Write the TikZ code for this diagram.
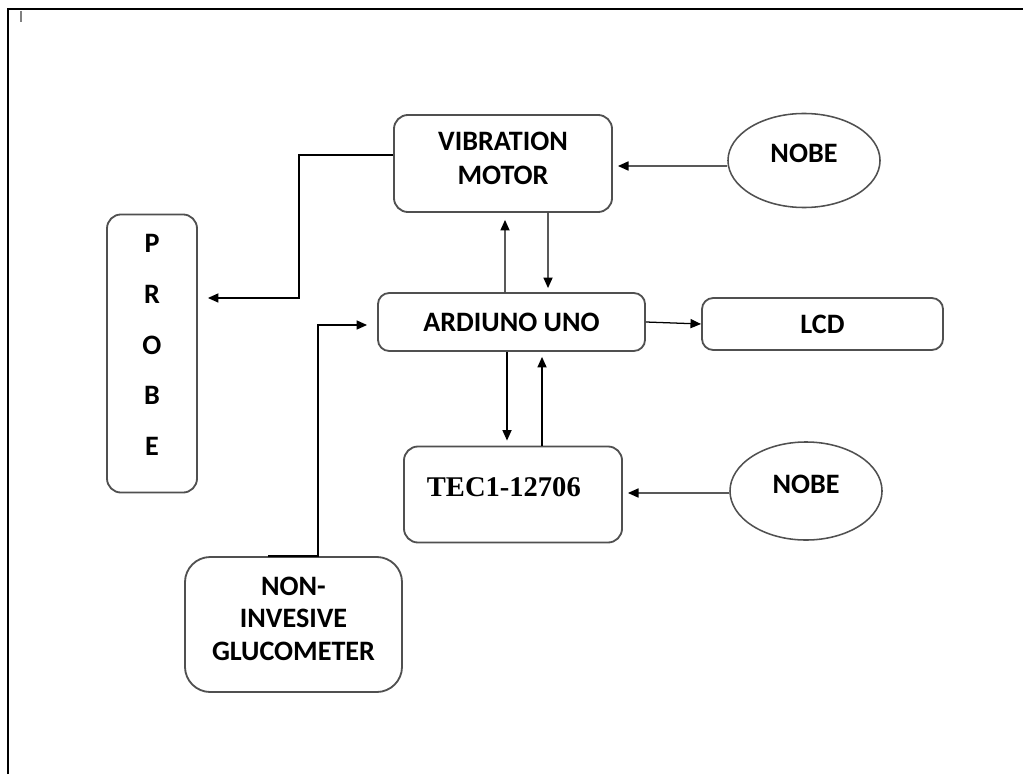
\documentclass[tikz,border=0pt]{standalone}
\usepackage{fontspec}
\setmainfont{Carlito}
\newfontfamily\tecfont{Liberation Serif}
\usepackage{tikz}
\usetikzlibrary{arrows.meta,shapes.geometric}
\definecolor{edgegray}{RGB}{80,80,80}

\begin{document}
\begin{tikzpicture}[
  x=0.025cm,y=-0.025cm,
  box/.style={draw=edgegray,line width=1.3pt,rounded corners=10pt,align=center,
    inner sep=0pt,font=\bfseries\fontsize{20}{24}\selectfont},
  nobe/.style={ellipse,draw=edgegray,line width=1.1pt,inner sep=0pt,
    minimum width=3.8cm,font=\bfseries\fontsize{20}{24}\selectfont,text depth=10pt},
  arr/.style={-{Triangle[length=7.5pt,width=6.5pt]},line width=0.9pt}
]
  \useasboundingbox (0,0) rectangle (1023,774);
  % outer frame and cursor mark
  \draw[line width=2pt] (8,774) -- (8,9) -- (1023,9);
  \draw[gray,line width=1pt] (21,11) -- (21,22);

  \node[box,minimum width=5.45cm,minimum height=2.425cm,text depth=7pt] (vib) at (503,163.5) {VIBRATION\\MOTOR};
  \node[nobe,minimum height=2.35cm] (nobeA) at (804,160.5) {NOBE};
  \node[box,minimum width=2.25cm,minimum height=6.95cm,text depth=12pt,
    font=\bfseries\fontsize{20}{36}\selectfont] (probe) at (152,353.5) {P\\R\\O\\B\\E};
  \node[box,rounded corners=8pt,minimum width=6.675cm,minimum height=1.45cm] (ard) at (511.5,322) {ARDIUNO UNO};
  \node[box,rounded corners=8pt,minimum width=6.025cm,minimum height=1.3cm] (lcd) at (822.5,324) {LCD};
  \node[box,minimum width=5.45cm,minimum height=2.4cm,text depth=10pt,
    font=\tecfont\bfseries\fontsize{20.3}{24}\selectfont] (tec) at (513,494.5) {TEC1-12706\kern13pt};
  \node[nobe,minimum height=2.45cm] (nobeB) at (806,491) {NOBE};
  \node[box,rounded corners=18pt,minimum width=5.425cm,minimum height=3.375cm,text depth=8.5pt,
    font=\bfseries\fontsize{20}{23}\selectfont] (glu) at (293.5,624.5) {NON-\\INVESIVE\\GLUCOMETER};

  \draw[arr] ([yshift=-0.1375cm]nobeA.west) -- ([xshift=0.125cm,yshift=-0.0625cm]vib.east);
  \draw[arr] ([yshift=-0.05cm]nobeB.west) -- ([xshift=0.125cm,yshift=0.0375cm]tec.east);
  \draw[arr] ([yshift=0.2125cm]vib.west) -- ++(-2.35cm,0) |- ([xshift=0.25cm,yshift=1.3875cm]probe.east);
  \draw[arr] ([xshift=-0.6375cm]glu.north) -- ([xshift=0.6125cm]glu.north)
    |- ([xshift=-0.25cm,yshift=-0.075cm]ard.west);
  \draw[arr] ([xshift=-0.1625cm]ard.north) -- ([xshift=0.05cm,yshift=-0.175cm]vib.south);
  \draw[arr] ([xshift=1.125cm]vib.south) -- ([xshift=0.9125cm,yshift=0.1cm]ard.north);
  \draw[arr] ([xshift=-0.1125cm]ard.south) -- ([xshift=-0.15cm,yshift=0.125cm]tec.north);
  \draw[arr] ([xshift=0.725cm]tec.north) -- ([xshift=0.7625cm,yshift=-0.125cm]ard.south);
  \draw[arr] (ard.east) -- (lcd.west);
\end{tikzpicture}
\end{document}
